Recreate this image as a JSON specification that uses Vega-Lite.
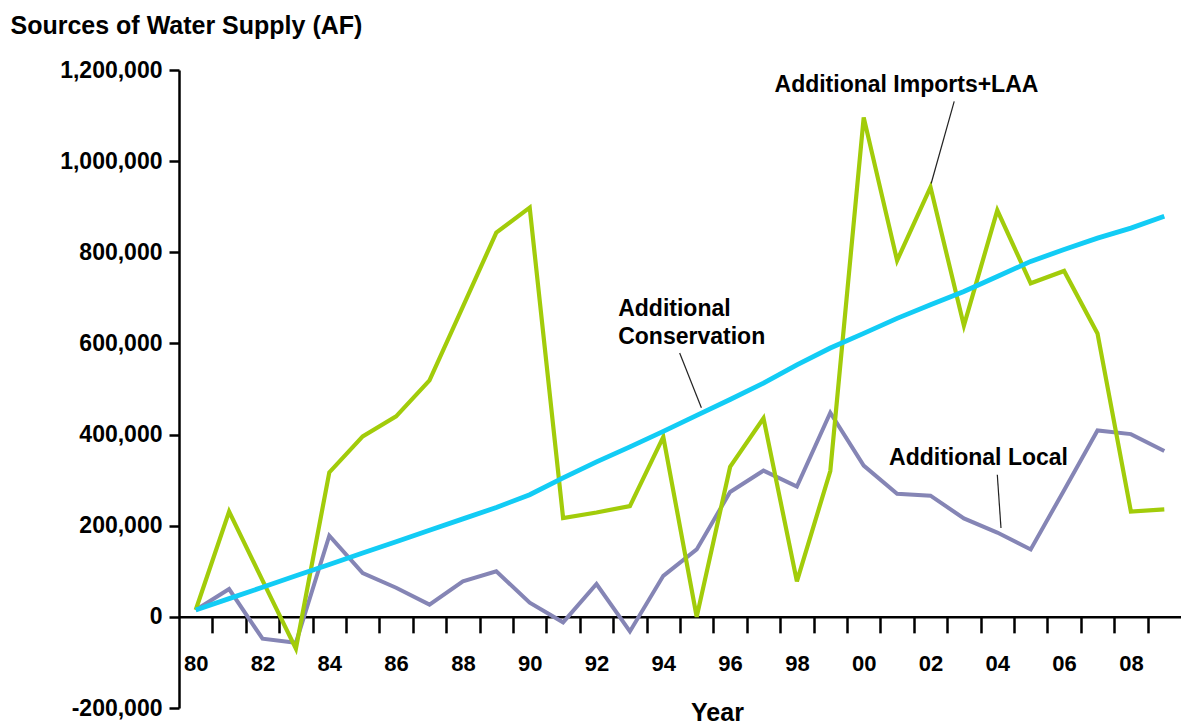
{
  "$schema": "https://vega.github.io/schema/vega-lite/v6.json",
  "width": 1002,
  "height": 638,
  "autosize": "none",
  "padding": {"left": 179, "top": 70, "right": 0, "bottom": 19},
  "background": "white",
  "config": {"view": {"stroke": null}, "font": "Liberation Sans"},
  "resolve": {"axis": {"x": "independent"}},
  "datasets": {
    "series": [
      {"series": "Imports", "year": 1980, "value": 15000},
      {"series": "Imports", "year": 1981, "value": 231000},
      {"series": "Imports", "year": 1982, "value": 80000},
      {"series": "Imports", "year": 1983, "value": -70000},
      {"series": "Imports", "year": 1984, "value": 317000},
      {"series": "Imports", "year": 1985, "value": 396000},
      {"series": "Imports", "year": 1986, "value": 440000},
      {"series": "Imports", "year": 1987, "value": 519000},
      {"series": "Imports", "year": 1988, "value": 681000},
      {"series": "Imports", "year": 1989, "value": 843000},
      {"series": "Imports", "year": 1990, "value": 898000},
      {"series": "Imports", "year": 1991, "value": 217000},
      {"series": "Imports", "year": 1992, "value": 229000},
      {"series": "Imports", "year": 1993, "value": 243000},
      {"series": "Imports", "year": 1994, "value": 395000},
      {"series": "Imports", "year": 1995, "value": 0},
      {"series": "Imports", "year": 1996, "value": 329000},
      {"series": "Imports", "year": 1997, "value": 436000},
      {"series": "Imports", "year": 1998, "value": 78000},
      {"series": "Imports", "year": 1999, "value": 320000},
      {"series": "Imports", "year": 2000, "value": 1096000},
      {"series": "Imports", "year": 2001, "value": 782000},
      {"series": "Imports", "year": 2002, "value": 943000},
      {"series": "Imports", "year": 2003, "value": 639000},
      {"series": "Imports", "year": 2004, "value": 892000},
      {"series": "Imports", "year": 2005, "value": 732000},
      {"series": "Imports", "year": 2006, "value": 759000},
      {"series": "Imports", "year": 2007, "value": 622000},
      {"series": "Imports", "year": 2008, "value": 231000},
      {"series": "Imports", "year": 2009, "value": 236000},
      {"series": "Conservation", "year": 1980, "value": 15000},
      {"series": "Conservation", "year": 1981, "value": 40000},
      {"series": "Conservation", "year": 1982, "value": 65000},
      {"series": "Conservation", "year": 1983, "value": 90000},
      {"series": "Conservation", "year": 1984, "value": 115000},
      {"series": "Conservation", "year": 1985, "value": 140000},
      {"series": "Conservation", "year": 1986, "value": 165000},
      {"series": "Conservation", "year": 1987, "value": 190000},
      {"series": "Conservation", "year": 1988, "value": 215000},
      {"series": "Conservation", "year": 1989, "value": 240000},
      {"series": "Conservation", "year": 1990, "value": 268000},
      {"series": "Conservation", "year": 1991, "value": 305000},
      {"series": "Conservation", "year": 1992, "value": 340000},
      {"series": "Conservation", "year": 1993, "value": 373000},
      {"series": "Conservation", "year": 1994, "value": 407000},
      {"series": "Conservation", "year": 1995, "value": 442000},
      {"series": "Conservation", "year": 1996, "value": 477000},
      {"series": "Conservation", "year": 1997, "value": 513000},
      {"series": "Conservation", "year": 1998, "value": 553000},
      {"series": "Conservation", "year": 1999, "value": 590000},
      {"series": "Conservation", "year": 2000, "value": 622000},
      {"series": "Conservation", "year": 2001, "value": 655000},
      {"series": "Conservation", "year": 2002, "value": 685000},
      {"series": "Conservation", "year": 2003, "value": 714000},
      {"series": "Conservation", "year": 2004, "value": 747000},
      {"series": "Conservation", "year": 2005, "value": 780000},
      {"series": "Conservation", "year": 2006, "value": 806000},
      {"series": "Conservation", "year": 2007, "value": 831000},
      {"series": "Conservation", "year": 2008, "value": 853000},
      {"series": "Conservation", "year": 2009, "value": 879000},
      {"series": "Local", "year": 1980, "value": 15000},
      {"series": "Local", "year": 1981, "value": 61000},
      {"series": "Local", "year": 1982, "value": -48000},
      {"series": "Local", "year": 1983, "value": -57000},
      {"series": "Local", "year": 1984, "value": 178000},
      {"series": "Local", "year": 1985, "value": 96000},
      {"series": "Local", "year": 1986, "value": 64000},
      {"series": "Local", "year": 1987, "value": 27000},
      {"series": "Local", "year": 1988, "value": 78000},
      {"series": "Local", "year": 1989, "value": 100000},
      {"series": "Local", "year": 1990, "value": 31000},
      {"series": "Local", "year": 1991, "value": -12000},
      {"series": "Local", "year": 1992, "value": 72000},
      {"series": "Local", "year": 1993, "value": -32000},
      {"series": "Local", "year": 1994, "value": 90000},
      {"series": "Local", "year": 1995, "value": 148000},
      {"series": "Local", "year": 1996, "value": 274000},
      {"series": "Local", "year": 1997, "value": 321000},
      {"series": "Local", "year": 1998, "value": 286000},
      {"series": "Local", "year": 1999, "value": 448000},
      {"series": "Local", "year": 2000, "value": 332000},
      {"series": "Local", "year": 2001, "value": 270000},
      {"series": "Local", "year": 2002, "value": 266000},
      {"series": "Local", "year": 2003, "value": 216000},
      {"series": "Local", "year": 2004, "value": 185000},
      {"series": "Local", "year": 2005, "value": 148000},
      {"series": "Local", "year": 2006, "value": 278000},
      {"series": "Local", "year": 2007, "value": 409000},
      {"series": "Local", "year": 2008, "value": 401000},
      {"series": "Local", "year": 2009, "value": 364000}
    ],
    "labels": [
      {"text": "Additional Imports+LAA", "year": 1997.33, "value": 1167000},
      {"text": "Additional", "year": 1992.65, "value": 675000},
      {"text": "Conservation", "year": 1992.65, "value": 614000},
      {"text": "Additional Local", "year": 2000.76, "value": 349000}
    ],
    "leaders": [
      {"year": 2002.71, "value": 1131000, "year2": 2002.02, "value2": 951000},
      {"year": 1994.49, "value": 579000, "year2": 1995.14, "value2": 459000},
      {"year": 2004.0, "value": 312000, "year2": 2004.11, "value2": 195000}
    ]
  },
  "layer": [
    {
      "data": {"name": "series"},
      "transform": [{"filter": "datum.series === 'Local'"}],
      "mark": {"type": "line", "color": "#8585B5", "strokeWidth": 4},
      "encoding": {
        "x": {
          "field": "year",
          "type": "quantitative",
          "scale": {"domain": [1979.5, 2009.5], "nice": false, "zero": false},
          "axis": {
            "orient": "bottom",
            "title": "Year",
            "values": [1980, 1982, 1984, 1986, 1988, 1990, 1992, 1994, 1996, 1998, 2000, 2002, 2004, 2006, 2008],
            "labelExpr": "substring(toString(datum.value), 2, 4)",
            "ticks": false,
            "offset": -91.14,
            "grid": false,
            "domainColor": "black",
            "domainWidth": 2.5,
            "labelFont": "Liberation Sans",
            "labelFontWeight": "bold",
            "labelFontSize": 22,
            "labelColor": "black",
            "labelBaseline": "middle",
            "labelPadding": 47,
            "labelOverlap": false,
            "labelFlush": false,
            "titleFont": "Liberation Sans",
            "titleFontSize": 25,
            "titleFontWeight": "bold",
            "titleColor": "black",
            "titleAlign": "center",
            "titleBaseline": "alphabetic",
            "titleX": 538,
            "titleY": 104
          }
        },
        "y": {
          "field": "value",
          "type": "quantitative",
          "scale": {"domain": [-200000, 1200000], "nice": false},
          "axis": {
            "title": "Sources of Water Supply (AF)",
            "values": [-200000, 0, 200000, 400000, 600000, 800000, 1000000, 1200000],
            "labelExpr": "(datum.value < 0 ? '-' : '') + format(abs(datum.value), ',')",
            "grid": false,
            "tickSize": 10,
            "tickWidth": 2.5,
            "tickColor": "black",
            "domainColor": "black",
            "domainWidth": 2.5,
            "labelFont": "Liberation Sans",
            "labelFontWeight": "bold",
            "labelFontSize": 23,
            "labelColor": "black",
            "labelPadding": 7,
            "titleFont": "Liberation Sans",
            "titleFontSize": 25,
            "titleFontWeight": "bold",
            "titleColor": "black",
            "titleAngle": 0,
            "titleAlign": "left",
            "titleBaseline": "alphabetic",
            "titleX": -169,
            "titleY": -37
          }
        }
      }
    },
    {
      "data": {"name": "series"},
      "transform": [{"filter": "datum.series === 'Imports'"}],
      "mark": {"type": "line", "color": "#A2CC0A", "strokeWidth": 4.2},
      "encoding": {
        "x": {"field": "year", "type": "quantitative", "axis": null},
        "y": {"field": "value", "type": "quantitative"}
      }
    },
    {
      "data": {"name": "series"},
      "transform": [{"filter": "datum.series === 'Conservation'"}],
      "mark": {"type": "line", "color": "#12CCF5", "strokeWidth": 4.8},
      "encoding": {
        "x": {"field": "year", "type": "quantitative", "axis": null},
        "y": {"field": "value", "type": "quantitative"}
      }
    },
    {
      "data": {"name": "leaders"},
      "mark": {"type": "rule", "color": "#222222", "strokeWidth": 1.2},
      "encoding": {
        "x": {
          "field": "year",
          "type": "quantitative",
          "axis": {
            "orient": "bottom",
            "title": null,
            "values": [1980.5, 1981.5, 1982.5, 1983.5, 1984.5, 1985.5, 1986.5, 1987.5, 1988.5, 1989.5, 1990.5, 1991.5, 1992.5, 1993.5, 1994.5, 1995.5, 1996.5, 1997.5, 1998.5, 1999.5, 2000.5, 2001.5, 2002.5, 2003.5, 2004.5, 2005.5, 2006.5, 2007.5, 2008.5],
            "labels": false,
            "domain": false,
            "grid": false,
            "offset": -91.14,
            "tickSize": 16,
            "tickWidth": 2.5,
            "tickColor": "black"
          }
        },
        "y": {"field": "value", "type": "quantitative"},
        "x2": {"field": "year2"},
        "y2": {"field": "value2"}
      }
    },
    {
      "data": {"name": "labels"},
      "mark": {"type": "text", "align": "left", "baseline": "middle", "font": "Liberation Sans", "fontWeight": "bold", "fontSize": 23, "color": "black"},
      "encoding": {
        "x": {"field": "year", "type": "quantitative", "axis": null},
        "y": {"field": "value", "type": "quantitative"},
        "text": {"field": "text"}
      }
    }
  ]
}
